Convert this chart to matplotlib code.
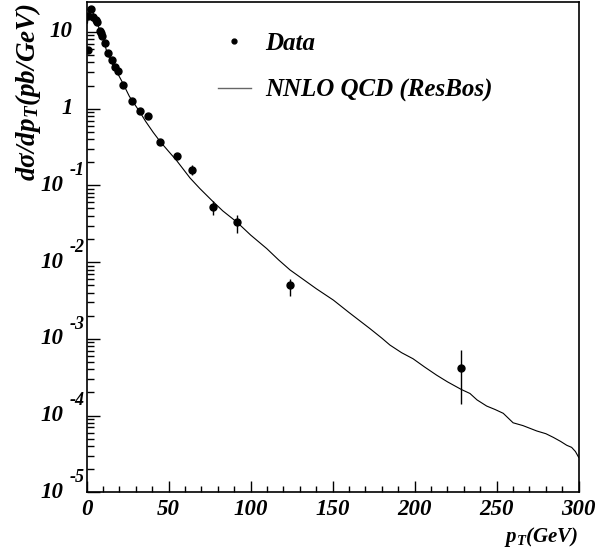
import numpy as np
import matplotlib.pyplot as plt
from matplotlib.lines import Line2D
from matplotlib.ticker import LogLocator, MultipleLocator, NullFormatter

#fonts: ROOT-style bold italic Times
plt.rcParams['font.family'] = 'Liberation Serif'
plt.rcParams['font.weight'] = 'bold'
plt.rcParams['font.style'] = 'italic'
plt.rcParams['mathtext.fontset'] = 'custom'
plt.rcParams['mathtext.rm'] = 'Liberation Serif:bold:italic'
plt.rcParams['mathtext.it'] = 'Liberation Serif:bold:italic'
plt.rcParams['mathtext.bf'] = 'Liberation Serif:bold:italic'

# %%
#measured points
pt_data = [0.6, 1.0, 2.8, 4.0, 5.9, 6.5, 7.9, 8.5, 9.5, 11.2, 13.0, 15.2, 17.1,
           19.0, 22.3, 27.4, 32.5, 37.2, 44.7, 54.9, 64.4, 76.8, 91.6, 124.1, 228.4]
xsec_data = [5.9, 16.2, 19.8, 15.7, 14.3, 13.3, 10.4, 9.7, 8.9, 7.1, 5.3, 4.3, 3.45,
             3.12, 2.03, 1.24, 0.94, 0.81, 0.365, 0.245, 0.159, 0.052, 0.0329, 0.00498, 4.23e-4]
err_lo = [0.2, 0.4, 0.5, 0.4, 0.4, 0.4, 0.3, 0.3, 0.3, 0.25, 0.2, 0.18, 0.15,
          0.14, 0.1, 0.07, 0.06, 0.06, 0.03, 0.02, 0.022, 0.0114, 0.009, 0.00137, 2.82e-4]
err_hi = [0.2, 0.4, 0.5, 0.4, 0.4, 0.4, 0.3, 0.3, 0.3, 0.25, 0.2, 0.18, 0.15,
          0.14, 0.1, 0.07, 0.06, 0.06, 0.03, 0.02, 0.026, 0.0097, 0.0085, 0.0011, 2.87e-4]

#ResBos prediction
pt_theory = [0.5, 1, 2, 3, 4, 5, 6, 7, 8, 9, 10, 12, 14, 16, 18, 20, 22.3, 26, 30,
             32.5, 36, 40.6, 44.7, 49.8, 54.9, 63, 69, 76.2, 83, 91.6, 100, 109.8,
             117, 124, 130, 140, 150.4, 160, 172.7, 180, 184.9, 192, 199, 206, 213.4,
             220, 228.4, 233.7, 238, 243.9, 249, 254, 260, 266, 274.4, 280, 284.5,
             289, 292.7, 295.7, 298, 300]
xsec_theory = [13, 17, 20, 19.5, 17.5, 15.5, 13.8, 12, 10.6, 9.3, 8.2, 5.8, 4.5, 3.7,
               3.1, 2.6, 2.1, 1.45, 1.08, 0.9, 0.68, 0.49, 0.375, 0.28, 0.21, 0.125,
               0.091, 0.064, 0.0465, 0.0332, 0.0225, 0.015, 0.0107, 0.0079, 0.0064,
               0.0045, 0.0032, 0.0022, 0.00136, 0.00102, 8.3e-4, 6.6e-4, 5.5e-4,
               4.3e-4, 3.36e-4, 2.75e-4, 2.19e-4, 1.94e-4, 1.6e-4, 1.33e-4, 1.2e-4,
               1.07e-4, 8.05e-5, 7.4e-5, 6.3e-5, 5.8e-5, 5.2e-5, 4.6e-5, 4.1e-5,
               3.85e-5, 3.4e-5, 2.85e-5]

#axis labels
x_ticks = [0, 50, 100, 150, 200, 250, 300]
y_decades = [-5, -4, -3, -2, -1, 0, 1]
legend_labels = ['Data', 'NNLO QCD (ResBos)']

# %%
fig = plt.figure(figsize=(5.99, 5.54), dpi=100)
ax = fig.add_axes([0.1447, 0.1114, 0.8214, 0.8841])

ax.plot(pt_theory, xsec_theory, color='k', lw=0.8)
ax.errorbar(pt_data, xsec_data, yerr=[err_lo, err_hi], fmt='o', color='k',
            ms=5, elinewidth=1.0, capsize=0)

ax.set_yscale('log')
ax.set_xlim(0, 300)
ax.set_ylim(1e-5, 24.2)

for s in ax.spines.values():
    s.set_linewidth(1.2)

#ticks only left and bottom, pointing in
ax.xaxis.set_minor_locator(MultipleLocator(10))
ax.set_xticks(x_ticks)
ax.set_xticklabels([str(t) for t in x_ticks])
ax.tick_params(axis='x', which='major', direction='in', length=8, width=1, pad=5,
               labelsize=16.5)
ax.tick_params(axis='x', which='minor', direction='in', length=4, width=1)

ax.yaxis.set_major_locator(LogLocator(base=10, numticks=20))
ax.yaxis.set_minor_locator(LogLocator(base=10, subs=np.arange(2, 10), numticks=20))
ax.yaxis.set_minor_formatter(NullFormatter())
ax.tick_params(axis='y', which='major', direction='in', length=9, width=1,
               labelleft=False)
ax.tick_params(axis='y', which='minor', direction='in', length=5, width=1)

#ROOT-like y labels: 10 with raised exponent
ytr = ax.get_yaxis_transform()
for d in y_decades:
    if d == 0:
        ax.text(-0.028, 10.0**d, '1', transform=ytr, ha='right', va='center', fontsize=16.5)
    elif d == 1:
        ax.text(-0.028, 10.0**d, '10', transform=ytr, ha='right', va='center', fontsize=16.5)
    else:
        ax.text(-0.047, 10.0**d, '10', transform=ytr, ha='right', va='center', fontsize=16.5)
        ax.text(-0.004, 10.0**(d + 0.19), str(d), transform=ytr, ha='right',
                va='center', fontsize=13)

ax.text(-0.119, 1.0, r'd$\sigma$/dp$_{T}$(pb/GeV)', transform=ax.transAxes,
        rotation=90, ha='center', va='top', fontsize=19.5)
ax.text(1.0, -0.091, r'p$_{T}$(GeV)', transform=ax.transAxes,
        ha='right', va='center', fontsize=15)

handles = [Line2D([], [], marker='o', ls='none', ms=3.5, color='k'),
           Line2D([], [], color='0.4', lw=1)]
ax.legend(handles, legend_labels, loc='upper left', bbox_to_anchor=(0.267, 0.94),
          frameon=False, fontsize=18, borderpad=0, borderaxespad=0,
          handlelength=1.3, handletextpad=0.6, labelspacing=0.95)

fig.savefig('out.png', dpi=100)
